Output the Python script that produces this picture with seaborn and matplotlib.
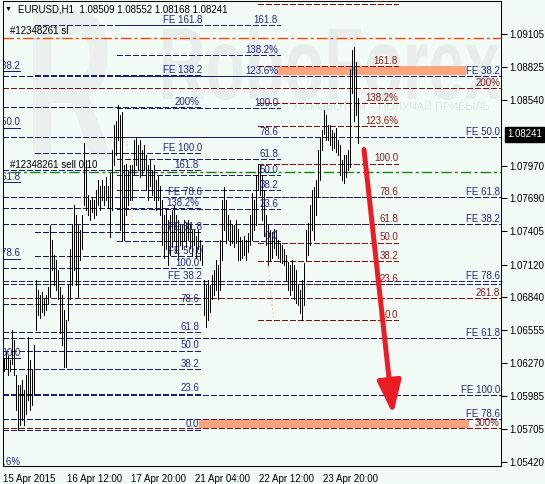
import numpy as np
import pandas as pd
import seaborn as sns
import matplotlib
matplotlib.use("Agg")
import matplotlib.pyplot as plt
from matplotlib.patches import Rectangle, PathPatch
from matplotlib.textpath import TextPath
from matplotlib.font_manager import FontProperties
from matplotlib.transforms import Affine2D, offset_copy, blended_transform_factory

W, H = 545, 484
BG = "#F3FBF7"
NAVY = "#1B1B78"
NAVY_TXT = "#26268C"
DRED = "#8B0A0A"
DRED_TXT = "#8B1A1A"
DASH = (0, (3.6, 2.0))
DASHDOT = (0, (7.5, 2.2, 2.2, 2.2))

# EURUSD H1 bars (high / low), one per hour
highs = [
    1.0632, 1.0637, 1.0633, 1.0630, 1.0656, 1.0647, 1.0617, 1.0608, 1.0608, 1.0613,
    1.0604, 1.0617, 1.0650, 1.0630, 1.0621, 1.0643, 1.0699, 1.0690, 1.0686, 1.0688,
    1.0683, 1.0686, 1.0693, 1.0746, 1.0733, 1.0720, 1.0716, 1.0707, 1.0693, 1.0686,
    1.0673, 1.0664, 1.0694, 1.0725, 1.0746, 1.0763, 1.0755, 1.0746, 1.0742, 1.0755,
    1.0817, 1.0802, 1.0772, 1.0768, 1.0770, 1.0768, 1.0776, 1.0785, 1.0780, 1.0785,
    1.0780, 1.0787, 1.0780, 1.0791, 1.0811, 1.0832, 1.0836, 1.0849, 1.0841, 1.0843,
    1.0798, 1.0799, 1.0793, 1.0798, 1.0798, 1.0819, 1.0822, 1.0815, 1.0819, 1.0811,
    1.0815, 1.0806, 1.0798, 1.0802, 1.0793, 1.0798, 1.0785, 1.0789, 1.0780, 1.0768,
    1.0755, 1.0759, 1.0750, 1.0755, 1.0759, 1.0763, 1.0755, 1.0750, 1.0746, 1.0746,
    1.0750, 1.0748, 1.0750, 1.0746, 1.0742, 1.0743, 1.0737, 1.0742, 1.0733, 1.0729,
    1.0699, 1.0694, 1.0699, 1.0694, 1.0703, 1.0707, 1.0716, 1.0712, 1.0733, 1.0768,
    1.0779, 1.0768, 1.0755, 1.0750, 1.0746, 1.0746, 1.0750, 1.0743, 1.0736, 1.0733,
    1.0737, 1.0733, 1.0739, 1.0755, 1.0774, 1.0768, 1.0789, 1.0799, 1.0798, 1.0789,
    1.0776, 1.0755, 1.0746, 1.0742, 1.0740, 1.0743, 1.0742, 1.0733, 1.0731, 1.0729,
    1.0725, 1.0720, 1.0714, 1.0712, 1.0716, 1.0712, 1.0707, 1.0694, 1.0690, 1.0699,
    1.0713, 1.0742, 1.0748, 1.0763, 1.0776, 1.0779, 1.0785, 1.0811, 1.0822, 1.0828,
    1.0845, 1.0841, 1.0832, 1.0832, 1.0828, 1.0825, 1.0830, 1.0819, 1.0815, 1.0802,
    1.0806, 1.0806, 1.0811, 1.0880, 1.0897, 1.0899, 1.0886, 1.08552,
]
lows = [
    1.0620, 1.0623, 1.0617, 1.0620, 1.0626, 1.0617, 1.0587, 1.0570, 1.0574, 1.0578,
    1.0574, 1.0583, 1.0595, 1.0587, 1.0591, 1.0600, 1.0656, 1.0669, 1.0666, 1.0671,
    1.0669, 1.0673, 1.0679, 1.0684, 1.0707, 1.0694, 1.0690, 1.0682, 1.0653, 1.0643,
    1.0624, 1.0624, 1.0664, 1.0682, 1.0694, 1.0707, 1.0694, 1.0684, 1.0716, 1.0725,
    1.0763, 1.0759, 1.0755, 1.0750, 1.0757, 1.0752, 1.0755, 1.0763, 1.0759, 1.0768,
    1.0763, 1.0768, 1.0761, 1.0736, 1.0759, 1.0798, 1.0806, 1.0819, 1.0742, 1.0733,
    1.0733, 1.0755, 1.0763, 1.0768, 1.0768, 1.0789, 1.0798, 1.0793, 1.0787, 1.0789,
    1.0793, 1.0776, 1.0768, 1.0780, 1.0772, 1.0768, 1.0759, 1.0768, 1.0755, 1.0729,
    1.0718, 1.0725, 1.0712, 1.0720, 1.0727, 1.0733, 1.0723, 1.0716, 1.0729, 1.0725,
    1.0733, 1.0727, 1.0733, 1.0726, 1.0720, 1.0729, 1.0718, 1.0725, 1.0716, 1.0712,
    1.0669, 1.0658, 1.0664, 1.0671, 1.0682, 1.0686, 1.0690, 1.0682, 1.0690, 1.0716,
    1.0742, 1.0731, 1.0733, 1.0729, 1.0731, 1.0727, 1.0731, 1.0716, 1.0716, 1.0718,
    1.0720, 1.0716, 1.0723, 1.0729, 1.0733, 1.0742, 1.0746, 1.0776, 1.0772, 1.0750,
    1.0737, 1.0729, 1.0712, 1.0716, 1.0718, 1.0726, 1.0720, 1.0718, 1.0714, 1.0713,
    1.0712, 1.0699, 1.0690, 1.0686, 1.0690, 1.0682, 1.0679, 1.0677, 1.0670, 1.0664,
    1.0677, 1.0716, 1.0720, 1.0729, 1.0742, 1.0733, 1.0755, 1.0770, 1.0785, 1.0811,
    1.0824, 1.0819, 1.0819, 1.0815, 1.0811, 1.0812, 1.0809, 1.0806, 1.0789, 1.0785,
    1.0782, 1.0787, 1.0793, 1.0796, 1.0860, 1.0836, 1.0841, 1.08168,
]

price_ticks = [1.09105, 1.08825, 1.08540, 1.07970, 1.07690, 1.07405, 1.07120,
               1.06840, 1.06555, 1.06270, 1.05985, 1.05705, 1.05420]
time_ticks = [0, 32, 64, 96, 128, 160]
time_labels = ["15 Apr 2015", "16 Apr 12:00", "17 Apr 20:00",
               "21 Apr 04:00", "22 Apr 12:00", "23 Apr 20:00"]

title_text = "EURUSD,H1  1.08509 1.08552 1.08168 1.08241"
last_price = 1.08241
sl_price = 1.0907
order_price = 1.0792

# Fibonacci objects (level prices)
left_fib = [1.0570, 1.0601, 1.0622, 1.0638, 1.0654, 1.0678, 1.0709, 1.0761, 1.0793, 1.0848]
left_fib_lbl = ["0.0", "23.6", "38.2", "50.0", "61.8", "78.6", "100.0", "138.2%", "161.8", "200%"]

left_fe = [1.0698, 1.0719, 1.0740, 1.0770, 1.0808, 1.0875, 1.0918]
left_fe_lbl = ["FE 38.2", "FE 50.0", "FE 61.8", "FE 78.6", "FE 100.0", "FE 138.2", "FE 161.8"]

mid_fib = [1.0732, 1.0760, 1.0776, 1.0789, 1.0803, 1.0822, 1.0847, 1.0874, 1.0892, 1.0918]
mid_fib_lbl = ["0.0", "23.6", "38.2", "50.0", "61.8", "78.6", "100.0", "123.6%", "138.2%", "161.8"]

red_fib = [1.0664, 1.0695, 1.0715, 1.0731, 1.0747, 1.0770, 1.0799, 1.0831, 1.0851, 1.0883, 1.0936]
red_fib_lbl = ["0.0", "23.6", "38.2", "50.0", "61.8", "78.6", "100.0", "123.6%", "138.2%", "161.8", "200%"]

red_ext = [1.0864, 1.0683, 1.0571]
red_ext_lbl = ["200%", "261.8", "300%"]

right_fe_a = [1.0874, 1.0822, 1.0770, 1.0698, 1.0600]
right_fe_a_lbl = ["FE 38.2", "FE 50.0", "FE 61.8", "FE 78.6", "FE 100.0"]

right_fe_b = [1.0747, 1.0695, 1.0649, 1.0579]
right_fe_b_lbl = ["FE 38.2", None, "FE 61.8", "FE 78.6"]

cut_fe_lines = [1.0879, 1.0830, 1.0783, 1.0717, 1.0632]
cut_fe_text_y = [1.0883, 1.0835, 1.0787, 1.0722, 1.0636, 1.0542]
cut_fe_lbl = ["FE 38.2", "FE 50.0", "FE 61.8", "FE 78.6", "FE 100.0", "FE 123.6%"]

# fibo trend lines (faint dotted)
trend_x = [(62, 65.5), (132.5, 135.5)]
trend_y = [(1.0819, 1.0731), (1.0714, 1.0663)]

# highlighted zones
zone_x0 = [137, 98]
zone_x1 = [231.5, 233]
zone_lo = [1.0875, 1.0571]
zone_hi = [1.0883, 1.0579]

arrow_from = (180.5, 1.0811)
arrow_to = (195, 1.0583)

sns.set_theme(style="white", rc={"axes.facecolor": BG, "figure.facecolor": BG})
plt.rcParams["font.family"] = ["Liberation Sans", "DejaVu Sans"]
plt.rcParams["lines.scale_dashes"] = False

fig = plt.figure(figsize=(W / 100, H / 100), dpi=100)
ax = fig.add_axes([3 / W, 18 / H, 498 / W, 465 / H])


def watermark(text, box, color):
    # box in image pixels: left, top, right, bottom
    tp = TextPath((0, 0), text, size=1,
                  prop=FontProperties(family="Liberation Sans", weight="bold"))
    ext = tp.get_extents()
    x0, y0, x1, y1 = box
    tr = (Affine2D().translate(-ext.x0, -ext.y0)
          .scale((x1 - x0) / ext.width, (y1 - y0) / ext.height)
          .translate(x0, H - y1))
    ax.add_patch(PathPatch(tp, transform=tr, facecolor=color, edgecolor="none", zorder=0.5))


watermark("R", (33, 10, 112, 160), "#E9F0EE")
watermark("RoboForex", (163, 25, 500, 100), "#E6EDEB")
ax.text(0.978, 0.772, "ТОРГУЙ РОБОТОМ – ПОЛУЧАЙ ПРИБЫЛЬ", transform=ax.transAxes,
        ha="right", va="center", fontsize=8, color="#DCE5E2", zorder=0.5)

# zones
for x0, x1, lo, hi in zip(zone_x0, zone_x1, zone_lo, zone_hi):
    ax.add_patch(Rectangle((x0, lo), x1 - x0, hi - lo, facecolor="#FFA47E",
                           edgecolor="none", zorder=1))

lab_trans = offset_copy(ax.transData, fig=fig, x=0, y=1.5, units="points")


def draw_levels(prices, labels, x0, x1, label_x, color, tcolor):
    ax.hlines(prices, x0, x1, colors=color, linestyles=[DASH], linewidth=0.6,
              antialiased=False, zorder=2)
    for p, lab in zip(prices, labels):
        if lab:
            ax.text(label_x, p, lab, transform=lab_trans, ha="right", va="baseline",
                    fontsize=7, color=tcolor, clip_on=True, zorder=4)


draw_levels(left_fib, left_fib_lbl, 0, 98.5, 98, NAVY, NAVY_TXT)
draw_levels(left_fe, left_fe_lbl, 16, 98.5, 99.5, NAVY, NAVY_TXT)
draw_levels(mid_fib, mid_fib_lbl, 57, 138.5, 137.5, NAVY, NAVY_TXT)
draw_levels(red_fib, red_fib_lbl, 127.5, 197.5, 197.5, DRED, DRED_TXT)
draw_levels(red_ext, red_ext_lbl, 0, 249, 248.5, DRED, DRED_TXT)
draw_levels(right_fe_a, right_fe_a_lbl, 0, 249, 248.5, NAVY, NAVY_TXT)
draw_levels(right_fe_b, right_fe_b_lbl, 0, 249, 248.5, NAVY, NAVY_TXT)

# labels of a FE object cut by the left border
ax.hlines(cut_fe_lines, 0, 8.5, colors=NAVY, linewidth=0.5, antialiased=False, zorder=2)
for p, lab in zip(cut_fe_text_y, cut_fe_lbl):
    ax.text(8.5, p, lab, ha="right", va="center", fontsize=7, color=NAVY_TXT,
            clip_on=True, zorder=4)

for (xa, xb), (ya, yb) in zip(trend_x, trend_y):
    ax.plot([xa, xb], [ya, yb], color="#F6CFA8", linestyle=(0, (1.5, 1.5)), linewidth=0.9, zorder=1.5)

# order lines
ax.axhline(sl_price, color="#FF4500", linestyle=DASHDOT, linewidth=1.0, zorder=2)
ax.axhline(order_price, xmin=7 / 498, color="#0A8A0A", linestyle=DASHDOT, linewidth=1.0, zorder=2)
ax.text(3.5, 1.0913, "#12348261 sl", ha="left", va="center", fontsize=7, color="black", zorder=4)
ax.text(3.5, 1.0798, "#12348261 sell 0.10", ha="left", va="center", fontsize=7, color="black", zorder=4)

# price bars
bars = pd.DataFrame({"bar": np.arange(len(highs)) + 0.5, "high": highs, "low": lows})
ax.vlines(bars["bar"], bars["low"], bars["high"], colors="black", linewidth=0.5,
          antialiased=False, zorder=3)

# forecast arrow
ax.annotate("", xy=arrow_to, xytext=arrow_from, zorder=5,
            arrowprops=dict(arrowstyle="-|>,head_length=1.0,head_width=0.36",
                            color="#EC1C24", lw=3.6, mutation_scale=20,
                            shrinkA=0, shrinkB=0))

# header
ax.text(0.01, 0.981, "▼", transform=ax.transAxes, ha="center", va="center",
        fontsize=5, color="black", zorder=4)
ax.text(0.030, 0.981, title_text, transform=ax.transAxes, ha="left", va="center",
        fontsize=7, color="black", zorder=4)

# current price box
ax.text(1.012, last_price, f"{last_price:.5f}",
        transform=blended_transform_factory(ax.transAxes, ax.transData),
        ha="left", va="center", fontsize=7, color="white", clip_on=False,
        bbox=dict(boxstyle="square,pad=0.25", facecolor="black", edgecolor="black"))

ax.set_xlim(0, 249)
ax.set_ylim(1.05386, 1.09389)
ax.set_xticks(time_ticks)
ax.set_xticklabels(time_labels, ha="left")
ax.set_yticks(price_ticks)
ax.set_yticklabels([f"{p:.5f}" for p in price_ticks])
ax.yaxis.tick_right()
ax.tick_params(axis="y", length=4, width=0.75, pad=2, labelsize=7, colors="black", direction="out")
ax.tick_params(axis="x", length=4, width=0.75, pad=2, labelsize=7, colors="black", direction="out")
ax.set_xlabel("")
ax.set_ylabel("")
for s in ax.spines.values():
    s.set_color("black")
    s.set_linewidth(0.75)

fig.savefig("out.png", dpi=100, facecolor=BG)
